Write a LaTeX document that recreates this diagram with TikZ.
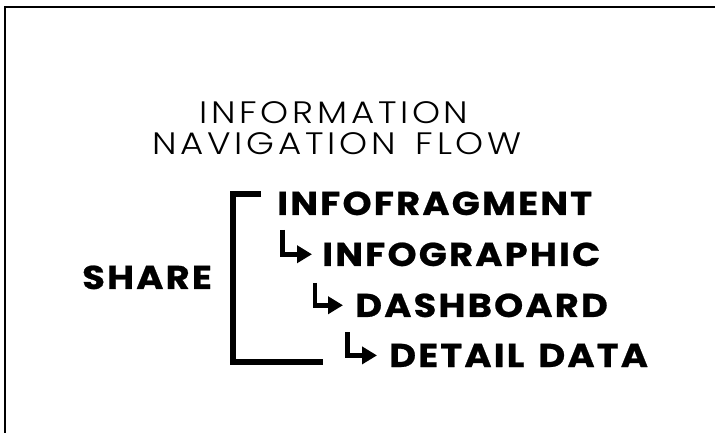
\documentclass[tikz,border=0pt]{standalone}
\usepackage{fontspec}
\usepackage{tikz}
\usetikzlibrary{arrows.meta}
\newfontfamily\titlefont{Poppins Light}[FakeStretch=1.15,LetterSpace=12,WordSpace=1.5]
\newfontfamily\itemfont{Poppins Bold}[FakeStretch=1.12,LetterSpace=6.5,WordSpace=1.4,FakeBold=0.7]

\begin{document}
\begin{tikzpicture}[x=1bp,y=-1bp,
    title/.style={inner sep=0pt,font=\titlefont\fontsize{31bp}{31bp}\selectfont},
    item/.style={inner sep=0pt,anchor=base west,text depth=0pt,font=\itemfont\fontsize{33bp}{33bp}\selectfont},
    flow/.style={line width=4.5bp,-{Triangle[length=15bp,width=17bp]}},
    bracket/.style={line width=6bp}]
			\useasboundingbox (0,0) rectangle (715,433);
			\draw[line width=2bp] (5,433) -- (5,7.5) -- (715,7.5);
			\node[title,anchor=base] (title1) at (334,124) {INFORMATION};
			\node[title,anchor=base] (title2) at (337,155) {NAVIGATION FLOW};
			\node[item] (share) at (82,289) {SHARE};
			\node[item] (frag) at (277,215) {INFOFRAGMENT};
			\node[item] (graph) at (322,266) {INFOGRAPHIC};
			\node[item] (dash) at (355,317) {DASHBOARD};
			\node[item] (detail) at (389,367) {DETAIL DATA};
			\draw[bracket] ([xshift=-16bp,yshift=-3bp]frag.north west) -| ([xshift=21bp]share.east) |- ([xshift=-66bp,yshift=5bp]detail.south west);
			\draw[flow] ([xshift=5.5bp,yshift=-15bp]frag.base west) |- ([xshift=-10bp]graph.west);
			\draw[flow] ([xshift=-7bp,yshift=-17bp]graph.base west) |- ([xshift=-12bp]dash.west);
			\draw[flow] ([xshift=-7.5bp,yshift=-15bp]dash.base west) |- ([xshift=-12bp]detail.west);
		\end{tikzpicture}
\end{document}
